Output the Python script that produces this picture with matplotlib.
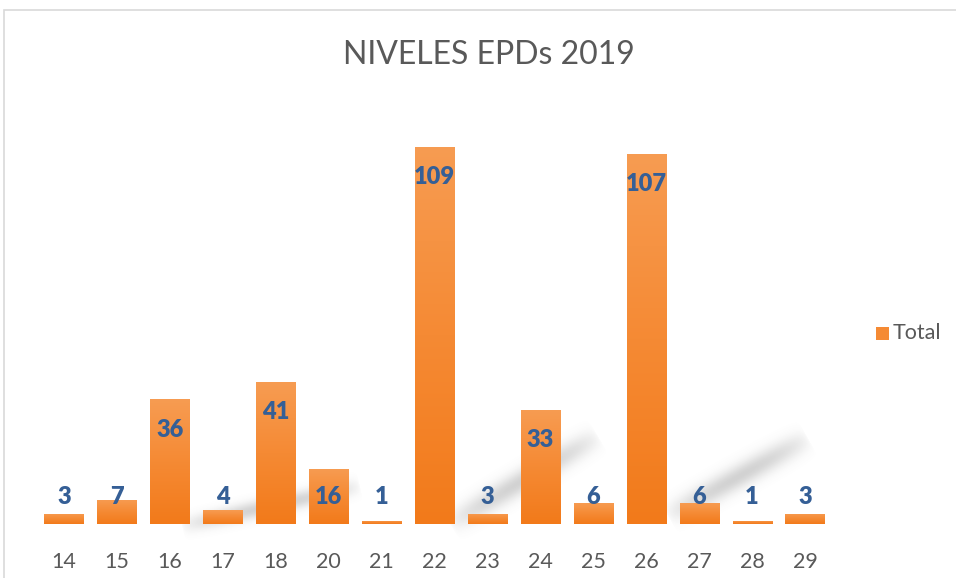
import matplotlib
matplotlib.use("Agg")
import matplotlib.pyplot as plt
import numpy as np
from matplotlib.colors import LinearSegmentedColormap
from matplotlib.patches import Rectangle

categories = ["14", "15", "16", "17", "18", "20", "21", "22", "23", "24", "25", "26", "27", "28", "29"]
values = [3, 7, 36, 4, 41, 16, 1, 109, 3, 33, 6, 107, 6, 1, 3]
series_name = "Total"
title = "NIVELES EPDs 2019"

plt.rcParams['font.family'] = ['Lato', 'DejaVu Sans']

W, H = 956, 578
fig = plt.figure(figsize=(W / 100, H / 100), dpi=100)

# background layer: border + soft diagonal shadows (decoration)
bg = fig.add_axes([0, 0, 1, 1], zorder=-2)
bg.axis('off')
bg.add_patch(Rectangle((4, 10), W + 10, H, facecolor='white', edgecolor='#D9D9D9', linewidth=1.2))

yy, xx = np.mgrid[0:H, 0:W] + 0.5
alpha = np.zeros((H, W))
for (x0, y0), (x1, y1), s in [((182, 526), (360, 486), 6.0), ((450, 524), (598, 436), 8.0),
                              ((668, 516), (808, 438), 8.0)]:
    dx, dy = x1 - x0, y1 - y0
    L2 = dx * dx + dy * dy
    t = ((xx - x0) * dx + (yy - y0) * dy) / L2
    tc = np.clip(t, 0, 1)
    d2 = (xx - (x0 + tc * dx)) ** 2 + (yy - (y0 + tc * dy)) ** 2
    fade = np.clip(np.sin(np.pi * tc), 0, 1) ** 0.5
    a = 0.32 * np.exp(-d2 / (2 * s ** 2)) * fade
    alpha = np.maximum(alpha, a)
rgba = np.zeros((H, W, 4))
rgba[..., :3] = 0.45
rgba[..., 3] = alpha
bg.imshow(rgba, extent=[0, W, H, 0], aspect='auto', interpolation='bilinear', zorder=2)
bg.set_xlim(0, W)
bg.set_ylim(H, 0)

ax = fig.add_axes([37.5 / W, 54 / H, 794 / W, 415.2 / H], zorder=1)
ax.set_facecolor('none')
x = np.arange(len(categories))
bars = ax.bar(x, values, width=0.74, color='#F4852E', zorder=3)

cmap = LinearSegmentedColormap.from_list('g', ['#F27A1A', '#F58A34', '#F79C52'])
grad = np.linspace(0, 1, 256).reshape(-1, 1)
for b in bars:
    bx, bw, bh = b.get_x(), b.get_width(), b.get_height()
    im = ax.imshow(grad, cmap=cmap, origin='lower', aspect='auto',
                   extent=[bx, bx + bw, 0, bh], zorder=4, interpolation='bicubic')
    im.set_clip_path(b)
ax.set_xlim(-0.5, len(categories) - 0.5)
ax.set_ylim(0, 120)

for xi, v in zip(x, values):
    ax.text(xi, max(v - 8.7, 7.8), str(v), ha='center', va='center', fontsize=17,
            fontweight='heavy', color='#355F96', zorder=6)

for s in ax.spines.values():
    s.set_visible(False)
ax.set_yticks([])
ax.set_xticks(x)
ax.set_xticklabels(categories, fontsize=15.5, color='#595959')
ax.tick_params(axis='x', length=0, pad=20)

fig.text(489 / W, 1 - 55 / H, title, ha='center', va='center', fontsize=23, color='#595959')

# legend
fig.add_artist(Rectangle((876 / W, 1 - 339.5 / H), 13 / W, 13 / H, transform=fig.transFigure,
                         facecolor='#F58A34', edgecolor='none'))
fig.text(893 / W, 1 - 333 / H, series_name, ha='left', va='center', fontsize=15.5, color='#595959')

fig.savefig('out.png', dpi=100)
